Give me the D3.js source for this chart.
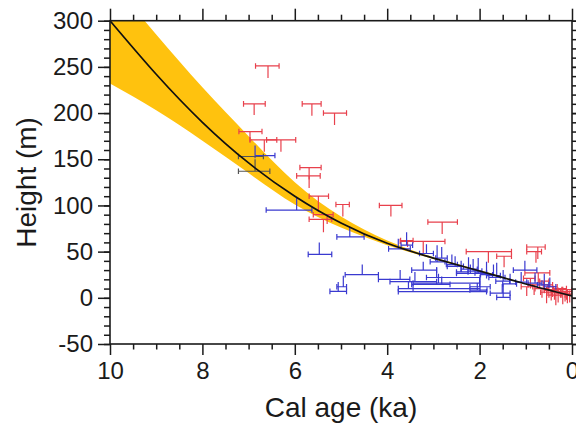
<!DOCTYPE html>
<html>
<head>
<meta charset="utf-8">
<script src="https://cdn.jsdelivr.net/npm/d3@7"></script>
<style>
  html, body { margin: 0; padding: 0; background: #fff; }
  svg { display: block; }
  text { font-family: "Liberation Sans", Arial, Helvetica, sans-serif; fill: #1a1a1a; }
</style>
</head>
<body>
<svg id="chart" width="576" height="424"></svg>
<script>
// ---------------- data ----------------
const xMajorTicks = [10, 8, 6, 4, 2, 0];
const xTickLabels = ["10", "8", "6", "4", "2", "0"];
const xMinorTicks = [9.5, 9, 8.5, 7.5, 7, 6.5, 5.5, 5, 4.5, 3.5, 3, 2.5, 1.5, 1, 0.5];
const yMajorTicks = [-50, 0, 50, 100, 150, 200, 250, 300];
const yTickLabels = ["-50", "0", "50", "100", "150", "200", "250", "300"];
const yMinorTicks = d3.range(-50, 301, 10);

// best-fit curve (age ka, height m)
const curveAge    = [10, 9, 8, 7, 6, 5, 4, 3, 2, 1, 0];
const curveHeight = [300, 242, 190, 146, 110, 81, 59, 43, 29, 15, 2];
// uncertainty envelope
const bandUpper   = [345, 285, 228, 175, 125, 88, 62, 44, 30, 15, 2];
const bandLower   = [232, 203, 170, 135, 101, 76, 57, 42, 28, 15, 2];

// markers: [stem age, bar age (old end), bar age (young end), height, stem end height]
const redMarkers = [
  [6.58, 6.85, 6.34, 251, 238],
  [6.88, 7.11, 6.64, 210, 198],
  [5.63, 5.84, 5.43, 210, 197],
  [5.14, 5.38, 4.88, 200, 187],
  [6.97, 7.21, 6.71, 180, 169],
  [6.66, 6.97, 6.39, 171, 158],
  [6.30, 6.61, 5.98, 171, 158],
  [5.69, 5.89, 5.43, 141, 128],
  [5.69, 5.96, 5.45, 132, 119],
  [5.49, 5.69, 5.27, 110, 93],
  [4.96, 5.11, 4.82, 101, 88],
  [3.92, 4.17, 3.68, 100, 88],
  [5.38, 5.69, 5.20, 85, 71],
  [5.30, 5.60, 5.17, 90, 80],
  [2.81, 3.12, 2.48, 82, 69],
  [3.22, 3.72, 2.75, 61, 48],
  [3.56, 3.71, 3.44, 62, 55],
  [1.81, 2.29, 1.31, 50, 38],
  [1.47, 1.63, 1.31, 45, 33],
  [0.74, 0.98, 0.58, 55, 42],
  [0.78, 0.98, 0.66, 50, 38],
  [0.73, 1.02, 0.48, 27, 16],
  [0.82, 0.95, 0.70, 14, 3],
  [0.65, 0.80, 0.50, 10, 0],
  [0.45, 0.60, 0.30, 8, -3],
  [0.30, 0.45, 0.10, 6, -5],
  [0.15, 0.30, 0.00, 7, -4],
  [0.10, 0.25, 0.00, 4, -6],
  [0.98, 1.10, 0.85, 12, 2],
  [0.38, 0.55, 0.20, 9, -2],
  [0.05, 0.15, 0.00, 3, -5],
  [0.60, 0.70, 0.50, 18, 6],
  [0.90, 1.05, 0.80, 21, 10],
  [0.52, 0.62, 0.42, 14, 2],
  [0.25, 0.40, 0.12, 10, 0],
  [0.20, 0.35, 0.05, 5, -7],
  [0.35, 0.50, 0.22, 3, -8],
  [0.12, 0.22, 0.00, 9, -2],
  [0.55, 0.68, 0.42, 6, -6],
  [0.42, 0.52, 0.32, 12, 1]
];

const blueMarkers = [
  [6.86, 6.86, 6.43, 154, 165],
  [5.96, 6.62, 5.63, 95, 108],
  [4.81, 5.09, 4.50, 66, 77],
  [5.47, 5.71, 5.20, 47, 60],
  [4.54, 4.91, 4.19, 25, 36],
  [3.72, 4.19, 3.51, 20, 30],
  [4.95, 5.09, 4.88, 12, 24],
  [5.06, 5.24, 4.88, 7, 17],
  [3.76, 3.97, 3.50, 53, 64],
  [3.22, 3.47, 2.93, 30, 39],
  [3.40, 3.94, 2.93, 17.5, 28],
  [2.93, 3.15, 1.99, 22, 33],
  [2.89, 3.44, 1.99, 16, 26],
  [3.54, 3.76, 1.99, 10, 18],
  [3.44, 3.76, 1.85, 6.6, 14],
  [2.82, 3.47, 2.64, 14.6, 23],
  [2.92, 3.07, 2.75, 39, 57],
  [1.02, 1.27, 0.76, 30, 40],
  [2.20, 2.50, 1.85, 26.5, 36],
  [1.49, 1.63, 1.34, 0.5, 15],
  [2.00, 2.21, 1.77, 12, 22],
  [1.51, 1.77, 1.34, 5, 15],
  [2.05, 2.21, 1.84, 8.4, 16],
  [3.58, 3.70, 3.45, 57, 71],
  [3.15, 3.30, 3.00, 48, 58],
  [2.82, 2.95, 2.70, 43, 55],
  [2.53, 2.70, 2.35, 34, 45],
  [2.24, 2.40, 2.05, 31, 44],
  [2.14, 2.25, 1.95, 29, 42],
  [2.03, 2.10, 1.85, 27, 43],
  [1.70, 1.85, 1.55, 24, 36],
  [1.63, 1.80, 1.45, 22, 38],
  [1.49, 1.65, 1.35, 18, 30],
  [1.34, 1.50, 1.20, 15, 26],
  [0.60, 0.75, 0.50, 14, 26],
  [0.48, 0.60, 0.35, 12, 22],
  [2.40, 2.50, 2.25, 28, 40],
  [0.80, 0.95, 0.65, 16, 27],
  [2.60, 2.72, 2.48, 36, 47],
  [1.85, 1.98, 1.72, 25, 39],
  [1.10, 1.22, 0.98, 17, 28]
];

const grayMarkers = [
  [6.86, 7.22, 6.68, 153, 153],
  [6.86, 7.22, 6.54, 137, 150]
];

// ---------------- layout ----------------
const svg = d3.select("#chart");
const L = 110, R = 572, T = 20.7, B = 344;

const x = d3.scaleLinear().domain([10, 0]).range([L, R]);
const y = d3.scaleLinear().domain([-50, 300]).range([B, T]);

svg.append("defs").append("clipPath").attr("id", "plotclip")
  .append("rect").attr("x", L).attr("y", T).attr("width", R - L).attr("height", B - T);

const plot = svg.append("g").attr("clip-path", "url(#plotclip)");

// band
const bandData = curveAge.map((a, i) => ({a, u: bandUpper[i], l: bandLower[i]}));
plot.append("path")
  .datum(bandData)
  .attr("fill", "#FFC20E")
  .attr("stroke", "none")
  .attr("d", d3.area()
    .x(d => x(d.a)).y0(d => y(d.l)).y1(d => y(d.u))
    .curve(d3.curveNatural));

// markers
function drawMarkers(data, color) {
  const g = plot.append("g").attr("stroke", color).attr("stroke-width", 1.2).attr("fill", "none");
  g.selectAll("path").data(data).join("path")
    .attr("d", d => {
      const x0 = x(d[1]), x1 = x(d[2]), yy = y(d[3]), xs = x(d[0]), ye = y(d[4]);
      const c = 2.8;
      return `M${x0},${yy}H${x1}` +
             `M${x0},${yy - c}V${yy + c}` +
             `M${x1},${yy - c}V${yy + c}` +
             `M${xs},${yy}V${ye}`;
    });
}
drawMarkers(redMarkers, "#E8404C");
drawMarkers(blueMarkers, "#3A3AD0");
drawMarkers(grayMarkers, "#555555");

// curve
const curveData = curveAge.map((a, i) => ({a, h: curveHeight[i]}));
plot.append("path")
  .datum(curveData)
  .attr("fill", "none")
  .attr("stroke", "#111")
  .attr("stroke-width", 1.7)
  .attr("d", d3.line().x(d => x(d.a)).y(d => y(d.h)).curve(d3.curveNatural));

// ---------------- axes ----------------
function styleAxis(g) {
  g.select(".domain").remove();
  g.selectAll(".tick line").attr("stroke", "#1a1a1a").attr("stroke-width", 1.5);
}
// bottom
svg.append("g").attr("transform", `translate(0,${B})`)
  .call(d3.axisBottom(x).tickValues(xMinorTicks).tickSize(5.5).tickFormat(""))
  .call(styleAxis);
svg.append("g").attr("transform", `translate(0,${B})`)
  .call(d3.axisBottom(x).tickValues(xMajorTicks).tickSize(11).tickPadding(7)
        .tickFormat((d, i) => xTickLabels[i]))
  .call(styleAxis)
  .call(g => g.selectAll("text").attr("font-size", 24).attr("font-family", "Liberation Sans, Arial, sans-serif").attr("fill", "#1a1a1a"));
// top
svg.append("g").attr("transform", `translate(0,${T})`)
  .call(d3.axisTop(x).tickValues(xMinorTicks).tickSize(6).tickFormat(""))
  .call(styleAxis);
svg.append("g").attr("transform", `translate(0,${T})`)
  .call(d3.axisTop(x).tickValues(xMajorTicks).tickSize(12).tickFormat(""))
  .call(styleAxis);
// left
svg.append("g").attr("transform", `translate(${L},0)`)
  .call(d3.axisLeft(y).tickValues(yMinorTicks).tickSize(6).tickFormat(""))
  .call(styleAxis);
svg.append("g").attr("transform", `translate(${L},0)`)
  .call(d3.axisLeft(y).tickValues(yMajorTicks).tickSize(12).tickPadding(5)
        .tickFormat((d, i) => yTickLabels[i]))
  .call(styleAxis)
  .call(g => g.selectAll("text").attr("font-size", 24).attr("font-family", "Liberation Sans, Arial, sans-serif").attr("fill", "#1a1a1a"));
// right
svg.append("g").attr("transform", `translate(${R},0)`)
  .call(d3.axisRight(y).tickValues(yMinorTicks).tickSize(6).tickFormat(""))
  .call(styleAxis);
svg.append("g").attr("transform", `translate(${R},0)`)
  .call(d3.axisRight(y).tickValues(yMajorTicks).tickSize(12).tickFormat(""))
  .call(styleAxis);

// frame
svg.append("rect").attr("x", L).attr("y", T).attr("width", R - L).attr("height", B - T)
  .attr("fill", "none").attr("stroke", "#1a1a1a").attr("stroke-width", 1.6);

// titles
svg.append("text").attr("x", 341).attr("y", 417).attr("text-anchor", "middle")
  .attr("font-size", 28).text("Cal age (ka)");
svg.append("text").attr("transform", "translate(36,182.4) rotate(-90)")
  .attr("text-anchor", "middle").attr("font-size", 28).text("Height (m)");
</script>
</body>
</html>
